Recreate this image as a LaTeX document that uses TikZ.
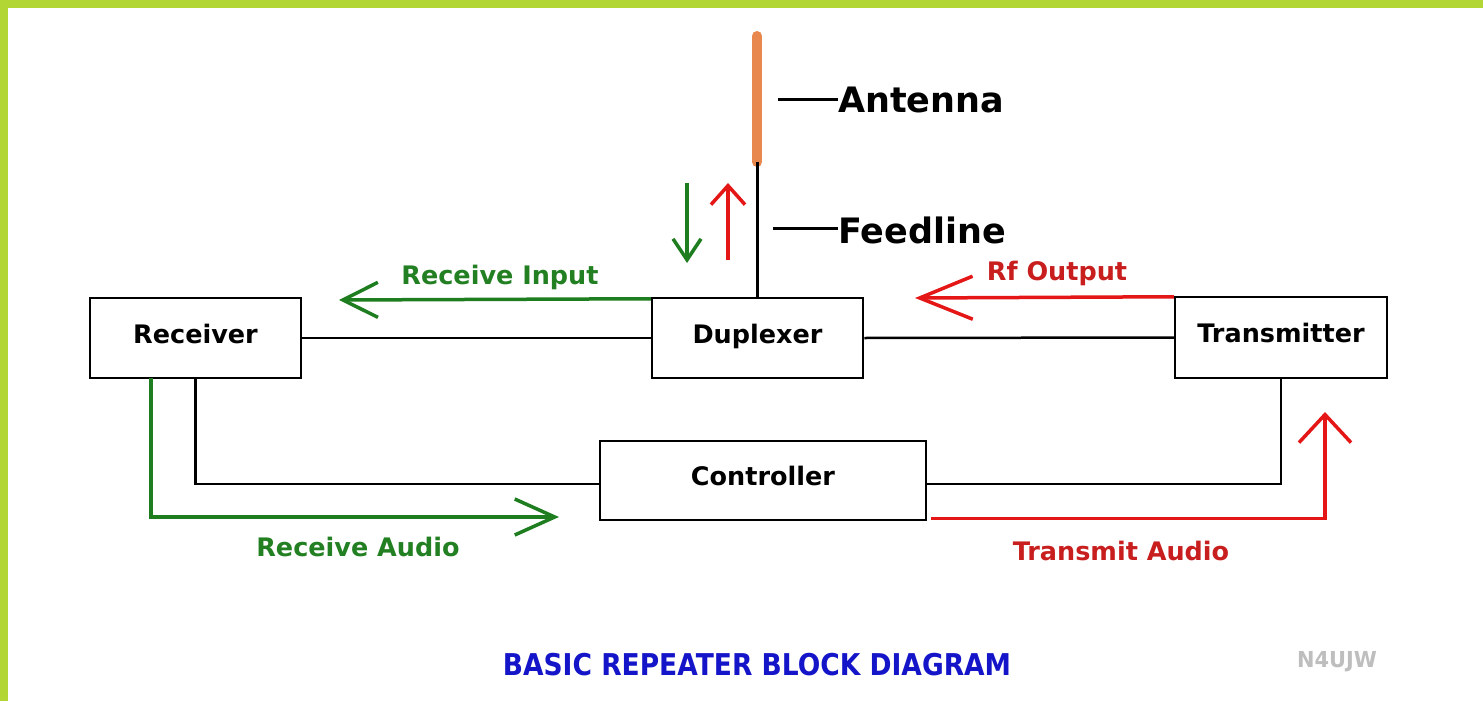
\documentclass[tikz,border=0pt]{standalone}
\usepackage{fontspec}
\usepackage{graphicx}
\setmainfont{DejaVu Sans}
\usetikzlibrary{arrows.meta,calc}
\definecolor{bordergreen}{RGB}{178,214,52}
\definecolor{agreen}{RGB}{30,125,30}
\definecolor{lgreen}{RGB}{34,128,34}
\definecolor{ared}{RGB}{228,22,22}
\definecolor{lred}{RGB}{200,30,30}
\definecolor{antorange}{RGB}{232,135,78}
\definecolor{tblue}{RGB}{20,20,200}
\definecolor{sgray}{RGB}{190,190,190}
\newcommand{\lblfont}{\fontsize{25.5}{30}\selectfont\bfseries}
\newcommand{\bigfont}{\fontsize{35}{40}\selectfont\bfseries}
\tikzset{
  blockbox/.style={draw, line width=2.5pt, inner sep=0pt, font=\lblfont,
    text height=18pt, text depth=8pt},
  wire/.style={line width=2.5pt},
  garrow/.style={draw=agreen, line width=3.5pt},
  rarrow/.style={draw=ared, line width=3.5pt},
  glabel/.style={text=lgreen, font=\lblfont, inner sep=0pt, anchor=base},
  rlabel/.style={text=lred, font=\lblfont, inner sep=0pt, anchor=base},
  biglabel/.style={font=\bigfont, inner sep=0pt, anchor=west},
}
\begin{document}
\begin{tikzpicture}[x=1pt,y=-1pt]
\useasboundingbox (0,0) rectangle (1483,701);
\fill[white] (0,0) rectangle (1483,701);
\fill[bordergreen] (0,0) rectangle (1483,8);
\fill[bordergreen] (0,0) rectangle (8,701);

% blocks
\node[blockbox, minimum width=211pt, minimum height=80pt] (rx) at (195.5,338) {Receiver};
\node[blockbox, minimum width=211pt, minimum height=80pt] (dup) at (757.5,338) {Duplexer};
\node[blockbox, minimum width=212pt, minimum height=81pt] (tx) at (1281,337.5) {Transmitter};
\node[blockbox, minimum width=326pt, minimum height=79pt] (ctrl) at (763,480.5) {Controller};

% antenna
\coordinate (anttop) at (757,36);
\coordinate (antbot) at (757,162);
\draw[antorange, line width=10pt, line cap=round] (anttop) -- (antbot);
\draw[wire] (dup.north) -- (dup.north |- antbot);

% antenna / feedline labels
\coordinate (al0) at (778,99);
\node[biglabel] (antlbl) at (838,100) {Antenna};
\draw[line width=3pt] (al0) -- (antlbl.west |- al0);
\coordinate (fl0) at (773,228);
\node[biglabel] (feedlbl) at (838,230) {Feedline};
\draw[line width=3pt] (fl0) -- (feedlbl.west |- fl0);

% black wires
\draw[wire] (rx.east) -- (dup.west);
\draw[wire] (dup.east) -- (tx.west);
\draw[wire] (rx.south) |- ([yshift=-3.5pt]ctrl.west);
\draw[wire] ([yshift=-3.5pt]ctrl.east) -| (tx.south);

% small arrows at feedline
\coordinate (gd0) at (687,183);
\coordinate (gd1) at (687,263);
\draw[garrow, -{Straight Barb[length=21pt,width=28pt]}] (gd0) -- (gd1);
\coordinate (ru0) at (728,260);
\coordinate (ru1) at (728,183);
\draw[rarrow, -{Straight Barb[length=19pt,width=34pt]}] (ru0) -- (ru1);

% receive input
\coordinate (ri1) at (339,300);
\draw[garrow, -{Straight Barb[length=35pt,width=35pt]}] ([yshift=-2pt]dup.north west) -- (ri1);
\node[glabel] (rilbl) at (500,284) {Receive Input};

% rf output
\coordinate (rf1) at (915,298);
\draw[rarrow, -{Straight Barb[length=53pt,width=43pt]}] ([yshift=-1pt]tx.north west) -- (rf1);
\node[rlabel] (rflbl) at (1057,280) {Rf Output};

% receive audio
\coordinate (ra0) at (151,378);
\coordinate (ra1) at (559,517);
\draw[garrow, -{Straight Barb[length=40pt,width=36pt]}] (ra0) |- (ra1);
\node[glabel] (ralbl) at (358,556) {Receive Audio};

% transmit audio
\coordinate (ta0) at ($(ctrl.south east)+(4,-3)$);
\coordinate (ta1) at (1325,412);
\draw[rarrow, -{Straight Barb[length=28pt,width=52pt]}] (ta0) -| (ta1);
\node[rlabel] (talbl) at (1121,560) {Transmit Audio};

% title and signature
\node[text=tblue, inner sep=0pt, font=\fontsize{30}{36}\selectfont\bfseries] (title) at (757,665)
  {\scalebox{0.884}[1]{BASIC REPEATER BLOCK DIAGRAM}};
\node[text=sgray, inner sep=0pt, font=\fontsize{22}{26}\selectfont\bfseries] (sig) at (1337,662)
  {\scalebox{0.95}[1]{N4UJW}};
\end{tikzpicture}
\end{document}
